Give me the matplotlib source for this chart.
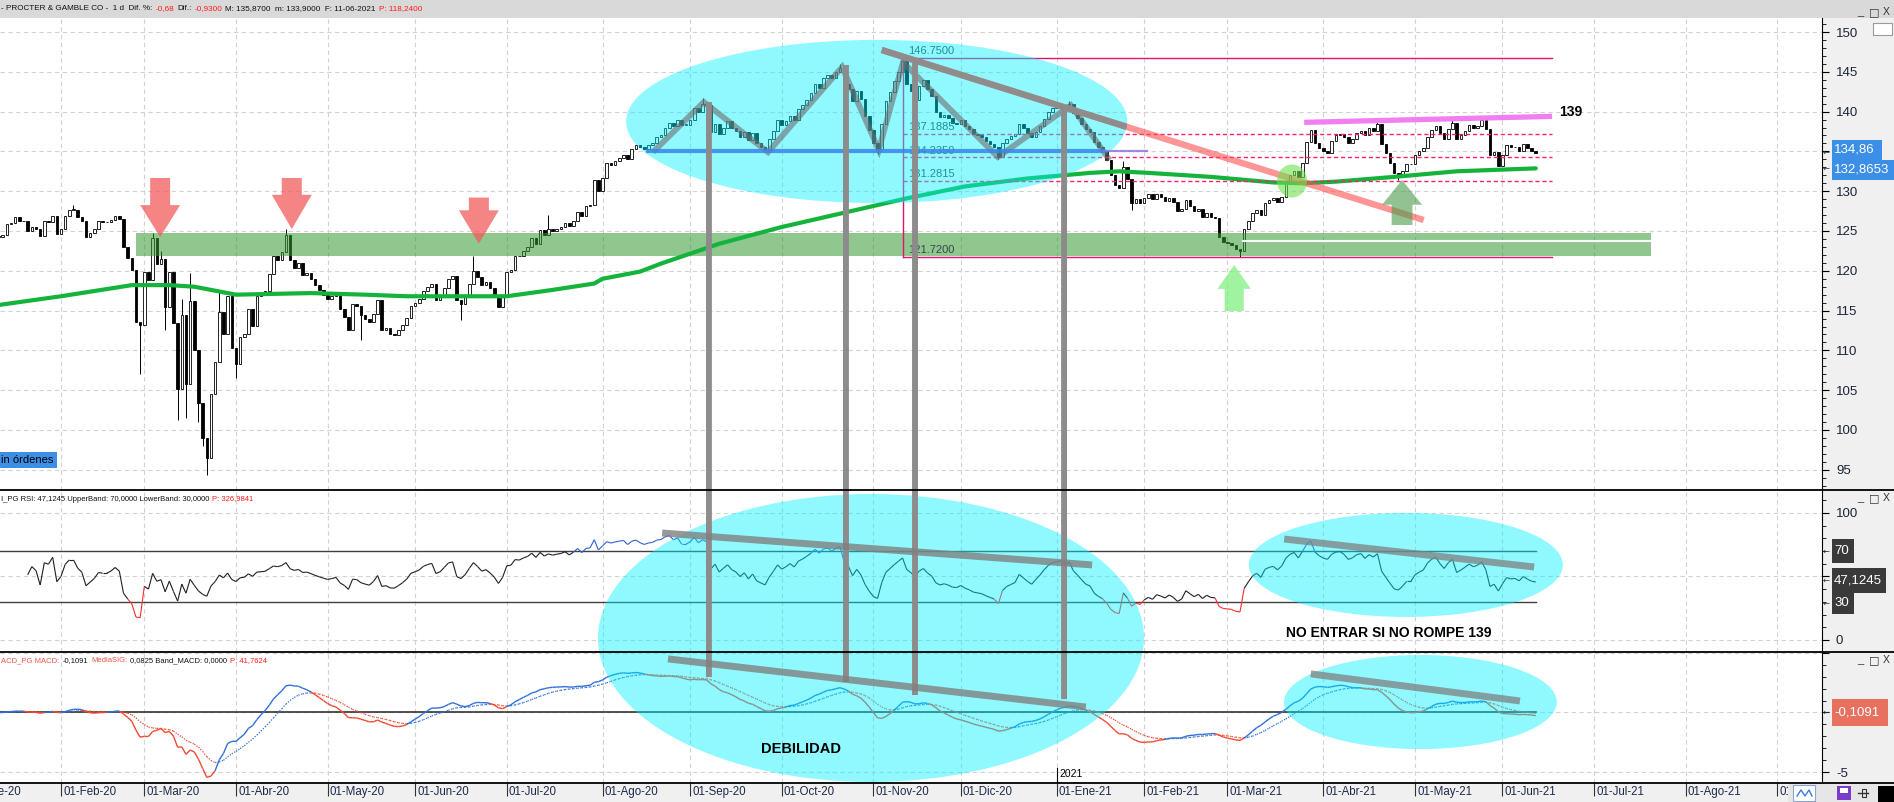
import numpy as np
import pandas as pd
import matplotlib
matplotlib.use("Agg")
import matplotlib.pyplot as plt
import matplotlib.transforms as mtransforms
from matplotlib.patches import Ellipse, Rectangle, Polygon, ConnectionPatch
from matplotlib.lines import Line2D
from matplotlib.collections import LineCollection
from matplotlib.ticker import MultipleLocator
from matplotlib.offsetbox import HPacker, TextArea, AnchoredOffsetbox

plt.rcParams["font.family"] = ["Liberation Sans", "DejaVu Sans"]

W, H = 1894, 802

# daily closes, 13-Jan-2020 .. 11-Jun-2021 (one row per month)
closes = [
    124.3, 124.5, 125.9, 126.0, 126.8, 126.2, 126.2, 125.0, 125.5, 125.3, 124.4, 126.2, 126.1, 126.9, 124.6,
    125.2, 126.9, 127.7, 127.7, 126.8, 126.3, 124.3, 124.8, 125.3, 126.2, 126.1, 126.1, 126.4, 126.9, 126.5, 123.0, 121.6, 120.1, 113.6, 113.2,
    119.9, 118.8, 124.1, 120.9, 121.5, 115.5, 119.8, 113.5, 105.2, 114.5, 105.8, 116.2, 110.0, 103.4, 99.0, 96.5, 104.5, 108.5, 114.8, 112.0, 116.8, 110.3,
    108.3, 111.7, 112.1, 115.2, 113.1, 116.8, 117.1, 117.5, 119.6, 121.8, 121.4, 122.3, 124.5, 121.3, 120.4, 121.0, 119.5, 119.7, 119.0, 118.2, 117.6, 117.0,
    116.5, 116.8, 117.2, 115.2, 114.2, 112.6, 115.8, 115.6, 114.5, 114.0, 113.6, 114.6, 116.3, 112.6, 112.8, 112.0, 111.9, 112.5, 113.2, 114.1, 115.6,
    116.0, 116.5, 117.5, 118.0, 118.3, 116.3, 116.7, 117.8, 119.0, 119.3, 116.3, 115.8, 116.7, 118.3, 120.0, 119.2, 118.2, 118.6, 117.9, 117.0, 115.5, 116.8,
    119.9, 120.1, 121.9, 121.8, 122.5, 123.0, 124.1, 123.4, 125.1, 124.5, 125.2, 125.0, 125.3, 125.5, 126.0, 125.6, 126.3, 127.4, 126.9, 128.1, 128.3, 131.4, 130.0,
    131.6, 133.5, 133.3, 133.8, 134.2, 134.5, 134.0, 135.3, 135.8, 135.5, 135.3, 135.8, 136.0, 136.8, 137.0, 138.0, 138.6, 138.2, 138.9, 138.3, 138.3,
    139.0, 140.5, 140.0, 141.0, 140.8, 137.5, 138.5, 137.2, 138.0, 138.8, 138.0, 137.6, 136.8, 137.5, 136.4, 137.3, 136.0, 135.6, 135.2, 136.5, 137.6, 139.0,
    138.3, 138.8, 139.5, 139.0, 140.3, 140.8, 141.5, 142.3, 143.5, 143.0, 144.2, 144.6, 144.2, 145.0, 145.5, 143.5, 142.9, 141.3, 142.6, 141.6, 139.5, 137.7,
    136.0, 135.3, 138.5, 141.3, 142.5, 143.8, 145.0, 146.3, 143.5, 142.6, 141.5, 143.2, 144.0, 142.8, 142.0, 140.0, 139.3, 139.6, 139.2, 138.6, 138.5,
    138.9, 138.2, 137.8, 137.2, 137.0, 136.8, 136.3, 135.9, 135.5, 134.3, 136.0, 136.6, 136.9, 137.2, 138.5, 137.9, 137.3, 136.8, 137.5, 138.2, 139.1, 139.9, 140.4,
    140.6, 140.8, 140.2, 140.9, 139.8, 139.2, 138.5, 137.8, 137.5, 136.2, 135.5, 135.0, 133.9, 132.0, 130.8, 130.4, 133.1, 131.5, 128.5, 129.0, 128.5,
    129.2, 129.6, 129.0, 129.7, 129.3, 128.8, 129.2, 128.6, 127.5, 127.8, 128.9, 128.2, 127.5, 127.8, 126.8, 127.2, 126.7, 126.6, 124.3, 123.6,
    123.5, 123.3, 122.7, 122.5, 125.2, 126.2, 127.2, 127.7, 127.0, 128.5, 128.9, 129.1, 128.6, 129.3, 131.0, 132.0, 132.5, 131.8, 133.6, 136.2, 137.7, 136.0, 135.4,
    135.0, 134.8, 136.3, 137.0, 137.2, 136.8, 136.1, 136.5, 137.3, 137.6, 137.0, 137.9, 137.6, 138.4, 135.9, 134.8, 133.6, 132.3, 132.0, 132.6, 133.4, 133.4,
    134.5, 135.0, 135.4, 136.8, 137.7, 138.2, 137.3, 136.6, 137.8, 138.6, 136.5, 137.0, 137.6, 138.3, 137.9, 138.2, 138.9, 137.8, 134.5, 134.9, 133.2,
    134.5, 135.8, 135.5, 135.6, 135.1, 135.9, 135.4, 135.0, 134.86,
]

# long wicks that stand out on the chart
wick_highs = {
    "2020-02-06": 128.3, "2020-03-04": 124.8, "2020-03-06": 122.5, "2020-03-13": 116.5,
    "2020-03-17": 119.7, "2020-03-26": 117.5, "2020-04-17": 125.2, "2020-06-19": 121.8,
    "2020-07-15": 127.0, "2020-09-04": 141.7, "2020-10-21": 146.0, "2020-11-11": 146.75,
    "2021-01-06": 141.3, "2021-01-25": 133.8, "2021-04-20": 139.0, "2021-05-14": 139.0,
    "2021-05-25": 139.4,
}
wick_lows = {
    "2020-02-28": 107.0, "2020-03-09": 112.5, "2020-03-12": 101.3, "2020-03-16": 101.5,
    "2020-03-19": 101.0, "2020-03-20": 98.0, "2020-03-23": 94.3, "2020-03-24": 99.5,
    "2020-04-01": 106.5, "2020-05-13": 111.3, "2020-06-16": 113.8, "2020-11-03": 134.7,
    "2020-12-14": 134.0, "2021-01-27": 127.6, "2021-03-04": 121.72, "2021-04-27": 131.4,
}

# 200-session moving average (green), read at a few dates
ma_dates = ["2020-01-13", "2020-02-03", "2020-02-26", "2020-03-10", "2020-03-18", "2020-04-01",
            "2020-04-27", "2020-05-14", "2020-05-28", "2020-07-01", "2020-07-16", "2020-07-30",
            "2020-08-03", "2020-08-14", "2020-08-21", "2020-09-10", "2020-10-01", "2020-10-22",
            "2020-11-12", "2020-12-02", "2020-12-23", "2021-01-13", "2021-01-22", "2021-02-02",
            "2021-02-23", "2021-03-16", "2021-03-25", "2021-04-06", "2021-04-26", "2021-05-17",
            "2021-06-11"]
ma_vals = [115.7, 116.8, 118.2, 118.2, 118.0, 117.0, 117.2, 117.0, 116.8, 116.8, 117.6, 118.4,
           119.0, 119.9, 120.9, 123.4, 125.5, 127.3, 129.1, 130.6, 131.6, 132.3, 132.5, 132.3,
           131.8, 131.1, 131.0, 131.2, 131.8, 132.5, 132.87]

fib_levels = [146.75, 137.1885, 134.235, 131.2815, 121.72]
fib_labels = ["146.7500", "137.1885", "134.2350", "131.2815", "121.7200"]
month_abbr = ["Ene", "Feb", "Mar", "Abr", "May", "Jun", "Jul", "Ago", "Sep", "Oct", "Nov", "Dic"]


def xpos(d):
    return np.busday_count("2020-01-13", np.asarray(d, dtype="datetime64[D]"))


c = np.array(closes)
x = np.arange(len(c))
opens = np.r_[c[0], c[:-1]]
highs = np.maximum(opens, c)
lows = np.minimum(opens, c)
for d, v in wick_highs.items():
    highs[xpos(d)] = v
for d, v in wick_lows.items():
    lows[xpos(d)] = v

s = pd.Series(c)
delta = s.diff()
gain = delta.clip(lower=0).ewm(alpha=1 / 14, min_periods=7).mean()
loss = (-delta.clip(upper=0)).ewm(alpha=1 / 14, min_periods=7).mean()
rsi = (100 - 100 / (1 + gain / loss)).to_numpy()
macd = (s.ewm(span=12).mean() - s.ewm(span=26).mean()).to_numpy()
sig = pd.Series(macd).ewm(span=9).mean().to_numpy()

# ---------------------------------------------------------------- figure
fig = plt.figure(figsize=(W / 100, H / 100), dpi=100, facecolor="#f0f0f0")
px = mtransforms.Affine2D().scale(1 / W, -1 / H).translate(0, 1) + fig.transFigure


def ax_px(x0, y0, x1, y1):
    return fig.add_axes([x0 / W, 1 - y1 / H, (x1 - x0) / W, (y1 - y0) / H])


ax = ax_px(0, 18, 1822, 490)
ax_rsi = ax_px(0, 490, 1822, 652)
ax_macd = ax_px(0, 652, 1822, 783)

months = pd.date_range("2020-01-01", "2021-09-01", freq="MS")
mpos = xpos(months.values.astype("datetime64[D]"))
XL = (0.36, 437.7)
grid_kw = dict(color="#d2d2d2", ls=(0, (4, 3)), lw=0.8)
for a in (ax, ax_rsi, ax_macd):
    a.set_facecolor("white")
    for sp in ("top", "left", "bottom"):
        a.spines[sp].set_visible(False)
    a.spines["right"].set_color("black")
    a.yaxis.tick_right()
    a.set_xticks(mpos)
    a.tick_params(axis="x", length=0, labelbottom=False)
    a.tick_params(axis="y", which="major", length=5, colors="black", labelcolor="#1c2333",
                  labelsize=9.5, pad=5)
    a.tick_params(axis="y", which="minor", length=3)
    a.grid(True, which="major", **grid_kw)
    a.set_axisbelow(True)

yt = np.arange(95, 151, 5)
ax.set_yticks(yt, ["" if v == 135 else str(v) for v in yt])
ax.yaxis.set_minor_locator(MultipleLocator(1))
ax_rsi.set_yticks([0, 50, 100], ["0", "", "100"])
ax_rsi.yaxis.set_minor_locator(MultipleLocator(10))
ax_macd.set_yticks([-5, 0, 5], ["-5", "", ""])
ax_macd.yaxis.set_minor_locator(MultipleLocator(1))
# limits after the ticks, so that set_xticks cannot widen them
for a, yl in ((ax, (92.46, 151.76)), (ax_rsi, (-9.45, 118.1)), (ax_macd, (-5.92, 5.08))):
    a.set_xlim(*XL)
    a.set_ylim(*yl)

# ---------------------------------------------------------------- price panel
ax.vlines(x, lows, highs, color="black", lw=0.7, zorder=2)
up = c >= opens
ax.bar(x, np.maximum(np.abs(c - opens), 0.08), bottom=np.minimum(opens, c), width=0.62,
       color=np.where(up, "white", "black"), edgecolor="black", linewidth=0.6, zorder=2.2)
ax.plot(xpos(ma_dates), ma_vals, color="#14b33b", lw=3, zorder=3.5, solid_capstyle="round")

# support zone
ax.add_patch(Rectangle((33.0, 121.85), 363.7, 2.9, color=(0.2, 0.6, 0.2), alpha=0.55, lw=0, zorder=3))
ax.plot([298.7, 396.7], [123.8, 123.8], color="white", lw=1.5, zorder=3.1)

# retracement box
fc = "#e0146a"
ax.plot([217.1, 372.9], [146.75, 146.75], color=fc, lw=1, zorder=3.6)
ax.plot([217.1, 372.9], [121.72, 121.72], color=fc, lw=1, zorder=3.6)
ax.plot([217.1, 217.1], [121.72, 146.75], color=fc, lw=1, zorder=3.6)
for lvl in fib_levels[1:4]:
    ax.plot([217.1, 372.9], [lvl, lvl], color="#ff1f6e", lw=1, ls=(0, (3, 2)), zorder=3.6)
for lvl, lab in zip(fib_levels, fib_labels):
    ax.text(218.3, lvl + 0.25, lab, fontsize=8, color="#34464f", va="bottom", zorder=3.6)

main_ell = Ellipse((210.8, 138.76), 120.3, 20.5, color=(0, 0.95, 1.0), alpha=0.44, lw=0, zorder=4)
ax.add_patch(main_ell)

# drawn pattern and levels
zz_x = [157.6, 169.3, 184.7, 202.5, 211.3, 217.1, 239.9, 257.4, 266.3]
zz_y = [135.18, 141.2, 134.9, 145.6, 135.2, 146.2, 134.3, 140.8, 134.2]
ax.plot(zz_x, zz_y, color="#6e6e6e", alpha=0.6, lw=4.2, zorder=5, solid_joinstyle="miter")
ax.plot([155.9, 265.1], [135.05, 135.05], color="#3a86e8", alpha=0.85, lw=3, zorder=5)
ax.plot([265.1, 275.7], [135.05, 135.05], color="#8a6ee0", alpha=0.8, lw=1.6, zorder=5)
ax.plot([212.0, 342.1], [147.74, 126.38], color="#ff4f4f", alpha=0.6, lw=4.6, zorder=6,
        solid_capstyle="butt")
tl_gray = ax.plot([212.0, 342.1], [147.74, 126.38], color="#8c8c8c", alpha=0.95, lw=4.6, zorder=6.1,
                  solid_capstyle="butt")[0]
tl_gray.set_clip_path(main_ell)
ax.plot([313.4, 372.9], [138.65, 139.4], color="#f27ef2", lw=3.8, zorder=6, solid_capstyle="butt")
ax.text(374.6, 139.95, "139", fontsize=10, fontweight="bold", va="center", zorder=7)


def down_arrow(cx, yt, yb, sw, hw, hl):
    return [(cx - sw, yt), (cx + sw, yt), (cx + sw, yb + hl), (cx + hw, yb + hl), (cx, yb),
            (cx - hw, yb + hl), (cx - sw, yb + hl)]


def up_arrow(cx, yt, yb, sw, hw, hl):
    return [(cx - sw, yb), (cx + sw, yb), (cx + sw, yt - hl), (cx + hw, yt - hl), (cx, yt),
            (cx - hw, yt - hl), (cx - sw, yt - hl)]


for cx, yt_, yb, hl in ((38.8, 131.66, 124.25, 4.0), (70.4, 131.66, 125.25, 4.3), (115.3, 129.2, 123.4, 4.2)):
    ax.add_patch(Polygon(down_arrow(cx, yt_, yb, 2.4, 4.8, hl), closed=True, color="#f25c5c",
                         alpha=0.75, lw=0, zorder=6))
ax.add_patch(Polygon(up_arrow(296.6, 120.73, 114.95, 2.3, 4.0, 3.0), closed=True, color="#80f080",
                     alpha=0.75, lw=0, zorder=6))
ax.add_patch(Polygon(up_arrow(336.9, 131.4, 125.75, 2.5, 4.8, 3.1), closed=True, color="#4a9a4a",
                     alpha=0.6, lw=0, zorder=6))
ax.add_patch(Ellipse((310.5, 131.28), 7.2, 4.15, color="#6fe04f", alpha=0.6, lw=0, zorder=6))

# ---------------------------------------------------------------- RSI panel
ax_rsi.plot([XL[0], x[-1]], [70, 70], color="#404040", lw=1, zorder=1.5)
ax_rsi.plot([XL[0], x[-1]], [30, 30], color="#404040", lw=1, zorder=1.5)
ok = ~np.isnan(rsi)
rx, ry = x[ok], rsi[ok]
segs = np.stack([np.column_stack([rx[:-1], ry[:-1]]), np.column_stack([rx[1:], ry[1:]])], axis=1)
rcol = ["#2f5fd0" if max(a, b) > 70 else "#ff2a2a" if min(a, b) < 30 else "#202020"
        for a, b in zip(ry[:-1], ry[1:])]
ax_rsi.add_collection(LineCollection(segs, colors=rcol, lw=0.8, zorder=2))
ax_rsi.add_patch(Ellipse((337.8, 59.1), 75.4, 81.9, color=(0, 0.95, 1.0), alpha=0.44, lw=0, zorder=4))
ax_rsi.plot([308.6, 368.6], [79.5, 57.5], color="#808080", alpha=0.75, lw=5, zorder=5,
            solid_capstyle="butt")
ax_rsi.text(333.8, 5.5, "NO ENTRAR SI NO ROMPE 139", fontsize=10, fontweight="bold",
            ha="center", va="center", zorder=6)

# ---------------------------------------------------------------- MACD panel
ax_macd.plot([XL[0], x[-1]], [0, 0], color="#333333", lw=1.2, zorder=1.5)
mcol = ["#2f6fd8" if m >= g else "#f04a30" for m, g in zip(macd[1:], sig[1:])]
mseg = np.stack([np.column_stack([x[:-1], macd[:-1]]), np.column_stack([x[1:], macd[1:]])], axis=1)
sseg = np.stack([np.column_stack([x[:-1], sig[:-1]]), np.column_stack([x[1:], sig[1:]])], axis=1)
ax_macd.add_collection(LineCollection(mseg, colors=mcol, lw=1.0, zorder=2))
ax_macd.add_collection(LineCollection(sseg, colors=mcol, lw=0.9, linestyles=(0, (1, 1.2)), zorder=2))
ax_macd.add_patch(Ellipse((341.3, 0.88), 65.5, 7.9, color=(0, 0.95, 1.0), alpha=0.44, lw=0, zorder=4))
ax_macd.plot([315.0, 365.2], [3.24, 0.97], color="#808080", alpha=0.75, lw=5, zorder=5,
             solid_capstyle="butt")
y21 = xpos("2021-01-01")
ax_macd.plot([y21, y21], [-4.7, -5.92], color="black", lw=0.8, zorder=3)
ax_macd.text(y21 + 0.6, -5.2, "2021", fontsize=7.5, va="center", zorder=3)

# ---------------------------------------------------------------- cross-panel drawings
big_ell = Ellipse((871, 638), 546, 288, transform=px, color=(0, 0.95, 1.0), alpha=0.44, lw=0, zorder=3)
fig.add_artist(big_ell)

vert_x = [170.5, 203.4, 220.0, 255.8]
vert_top = [141.2, 145.85, 146.1, 140.8]
vert_end = [2.98, 2.56, 1.47, 1.13]
for vx, vt, ve in zip(vert_x, vert_top, vert_end):
    kw = dict(coordsA=ax.transData, coordsB=ax_macd.transData, lw=4, capstyle="butt")
    fig.add_artist(ConnectionPatch((vx, vt), (vx, ve), color="#ff4d4d", alpha=0.6, zorder=4, **kw))
    for clip in (main_ell, big_ell):
        g = ConnectionPatch((vx, vt), (vx, ve), color="#8c8c8c", alpha=0.9, zorder=4.5, **kw)
        fig.add_artist(g)
        g.set_clip_path(clip)

fig.add_artist(ConnectionPatch((159.3, 84.25), (262.5, 59.1), coordsA=ax_rsi.transData,
                               coordsB=ax_rsi.transData, color="#808080", alpha=0.8, lw=5,
                               capstyle="butt", zorder=5))
fig.add_artist(ConnectionPatch((160.7, 4.5), (261.0, 0.46), coordsA=ax_macd.transData,
                               coordsB=ax_macd.transData, color="#808080", alpha=0.8, lw=5,
                               capstyle="butt", zorder=5))
fig.text(192.6, -3.07, "DEBILIDAD", transform=ax_macd.transData, fontsize=10.5, fontweight="bold",
         ha="center", va="center", zorder=6)

# ---------------------------------------------------------------- frame, headers, labels
fig.add_artist(Rectangle((0, 0), W, 18, transform=px, color="#d9d9d9", lw=0, zorder=1))
for yy in (490, 652, 783):
    fig.add_artist(Line2D([0, W], [yy, yy], transform=px, color="black", lw=1.3, zorder=8))


def header(pieces, y, size):
    boxes = [TextArea(t, textprops=dict(color=col, fontsize=size)) for t, col in pieces]
    pack = HPacker(children=boxes, align="baseline", pad=0, sep=2.2)
    box = AnchoredOffsetbox(loc="center left", child=pack, pad=0, borderpad=0, frameon=False,
                            bbox_to_anchor=(1 / W, 1 - y / H), bbox_transform=fig.transFigure)
    box.set_zorder(9)
    fig.add_artist(box)


K, R, S = "#111111", "#ff1a1a", "#e8554a"
header([("- PROCTER & GAMBLE CO -  1 d  Dif. %:", K), ("-0,68", R), ("Dif.:", K), ("-0,9300", R),
        ("M: 135,8700  m: 133,9000  F: 11-06-2021", K), ("P: 118,2400", R)], 9, 5.9)
header([("I_PG RSI: 47,1245 UpperBand: 70,0000 LowerBand: 30,0000", K), ("P: 326,9841", R)], 499, 5.5)
header([("ACD_PG MACD:", S), ("-0,1091", K), ("MediaSIG:", S), ("0,0825 Band_MACD: 0,0000", K),
        ("P: 41,7624", R)], 661, 5.5)

for yy in (12, 498, 660):
    fig.text(1857, yy, "_", transform=px, fontsize=8, va="center", color="#333333", zorder=9)
    fig.text(1869, yy, "\u25a1", transform=px, fontsize=8, va="center", color="#333333",
             family="DejaVu Sans", zorder=9)
    fig.text(1883, yy, "X", transform=px, fontsize=7.5, va="center", color="#333333", zorder=9)
fig.add_artist(Rectangle((1873, 23), 19, 12, transform=px, facecolor="white", edgecolor="#9a9a9a",
                         lw=0.8, zorder=9))

# value boxes on the right scale
for y0, h, w, col, txt, ymark in ((140, 20, 50, "#3b8fe6", "134,86", 152.5),
                                  (160, 20, 62, "#3b8fe6", "132,8653", 168.7),
                                  (539, 24, 22, "#3a3a3a", "70", 551),
                                  (568, 25, 54, "#3a3a3a", "47,1245", 580),
                                  (593, 21, 22, "#3a3a3a", "30", 603),
                                  (699, 27, 56, "#e8705f", "-0,1091", 712)):
    fig.add_artist(Rectangle((1832, y0), w, h, transform=px, color=col, lw=0, zorder=9))
    fig.text(1834, y0 + h / 2, txt, transform=px, color="white", fontsize=9.5, va="center", zorder=10)
    fig.text(1823, ymark, "\u2190", transform=px, color="#333333", fontsize=6, va="center",
             family="DejaVu Sans", zorder=10)

fig.add_artist(Rectangle((0, 452), 57, 16, transform=px, color="#3d8fe6", lw=0, zorder=9))
fig.text(1, 460, "in \u00f3rdenes", transform=px, fontsize=8, va="center", zorder=10)

# date axis
ax_macd.tick_params(axis="x", length=9, width=0.8, color="#333333", direction="out")
for p, m in zip(mpos, months):
    ax_macd.text(p + 0.5, -0.02, f"01-{month_abbr[m.month - 1]}-{m.year % 100:02d}",
                 transform=ax_macd.get_xaxis_transform(), fontsize=8.3, color="#1f2a4a",
                 ha="left", va="top", clip_on=False)

# little toolbar bottom right
fig.add_artist(Rectangle((1788, 784), 106, 18, transform=px, color="#e6e6e6", lw=0, zorder=9))
fig.add_artist(Rectangle((1793, 785), 22, 16, transform=px, facecolor="white", edgecolor="#8aa6d6",
                         lw=0.8, zorder=9))
fig.add_artist(Line2D([1797, 1801, 1805, 1809, 1812], [796, 790, 796, 790, 796], transform=px,
                      color="#3a7be0", lw=1, zorder=10))
fig.add_artist(Rectangle((1837, 786), 14, 14, transform=px, color="#7a3cc8", lw=0, zorder=9))
fig.add_artist(Rectangle((1840, 788), 8, 5, transform=px, color="white", lw=0, zorder=10))
fig.add_artist(Line2D([1858, 1868], [793, 793], transform=px, color="#333333", lw=1, zorder=10))
fig.add_artist(Rectangle((1862, 789), 4, 8, transform=px, facecolor="none", edgecolor="#333333",
                         lw=0.8, zorder=10))
fig.add_artist(Rectangle((1878, 786), 16, 16, transform=px, color="black", lw=0, zorder=10))

fig.savefig("out.png", dpi=100, facecolor=fig.get_facecolor())
